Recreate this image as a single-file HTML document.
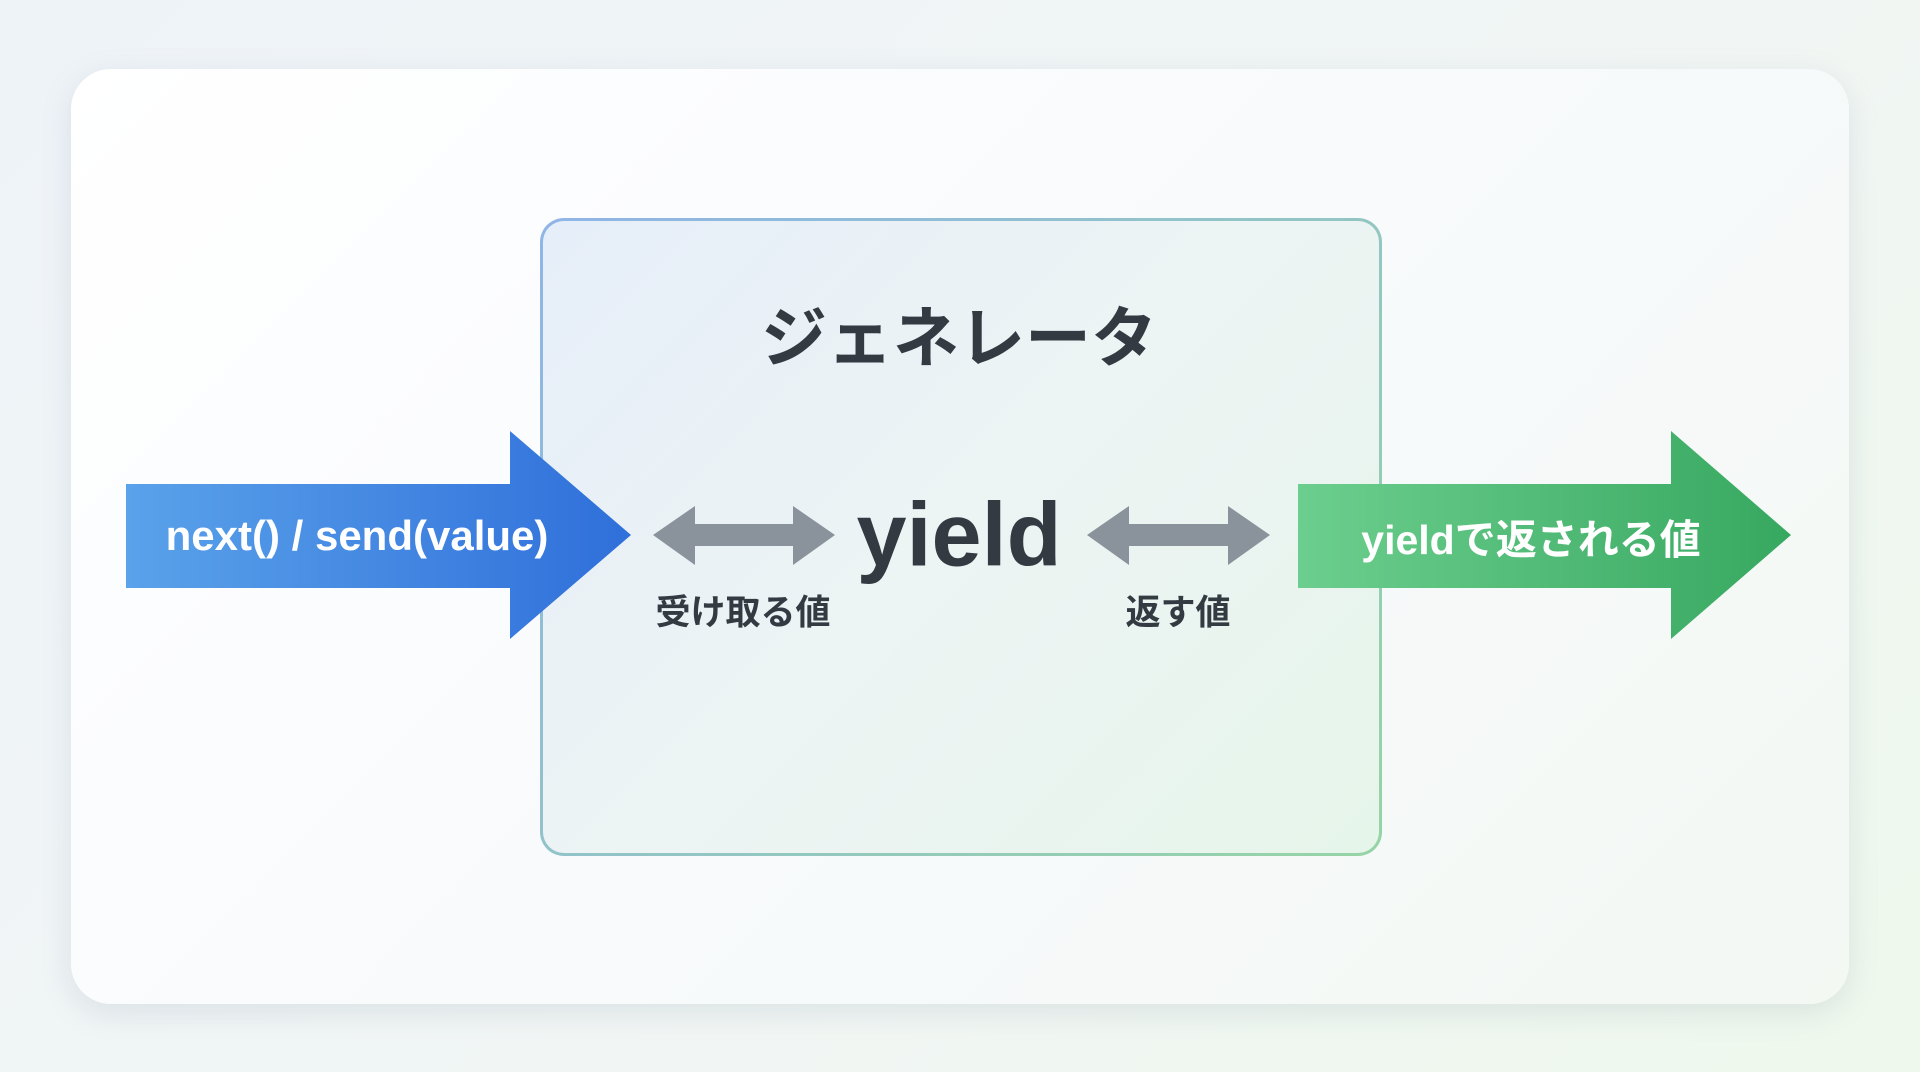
<!DOCTYPE html>
<html><head><meta charset="utf-8"><style>
html,body{margin:0;padding:0;width:1920px;height:1072px;overflow:hidden;background:linear-gradient(135deg,#eef3f8,#f1f6f4 60%,#eef8ec);font-family:"Liberation Sans","Noto Sans CJK JP",sans-serif;}
.card{position:absolute;left:71px;top:69px;width:1778px;height:935px;border-radius:40px;background:linear-gradient(135deg,#ffffff,#f8fafc 50%,#f3f8f3);box-shadow:0 8px 30px rgba(120,140,160,0.18);}
.inner{position:absolute;left:540px;top:218px;width:836px;height:632px;border-radius:24px;border:3px solid transparent;background:linear-gradient(135deg,#e6eef9,#edf4f4 50%,#e6f5ea) padding-box,linear-gradient(135deg,#8fb5e6,#96d4a6) border-box;}
.t{position:absolute;transform:translate(-50%,-50%);white-space:nowrap;font-weight:bold;}
</style></head><body>
<div class="card"></div>
<div class="inner"></div>
<svg width="1920" height="1072" style="position:absolute;left:0;top:0">
<defs>
<linearGradient id="b" x1="0" x2="1"><stop offset="0" stop-color="#5aa2ea"/><stop offset="1" stop-color="#2f6fda"/></linearGradient>
<linearGradient id="g" x1="0" x2="1"><stop offset="0" stop-color="#6cce8e"/><stop offset="1" stop-color="#37a860"/></linearGradient>
</defs>
<polygon points="126,484 510,484 510,431 631,535 510,639 510,588 126,588" fill="url(#b)"/>
<polygon points="1298,484 1671,484 1671,431 1791,535 1671,639 1671,588 1298,588" fill="url(#g)"/>
<polygon points="653,535 695,506 695,524 793,524 793,506 835,535 793,565 793,546 695,546 695,565" fill="#8a929b"/>
<polygon points="1087,535 1129,506 1129,524 1228,524 1228,506 1270,535 1228,565 1228,546 1129,546 1129,565" fill="#8a929b"/>
</svg>
<div class="t" style="left:959px;top:333px;font-size:66px;color:#333a42">ジェネレータ</div>
<div class="t" style="left:357px;top:536px;font-size:42px;color:#fff">next() / send(value)</div>
<div class="t" style="left:1531px;top:536px;font-size:41px;color:#fff">yieldで返される値</div>
<div class="t" style="left:959px;top:536px;font-size:90px;color:#333a42">yield</div>
<div class="t" style="left:743px;top:610px;font-size:35px;color:#333a42">受け取る値</div>
<div class="t" style="left:1178px;top:610px;font-size:35px;color:#333a42">返す値</div>
</body></html>
